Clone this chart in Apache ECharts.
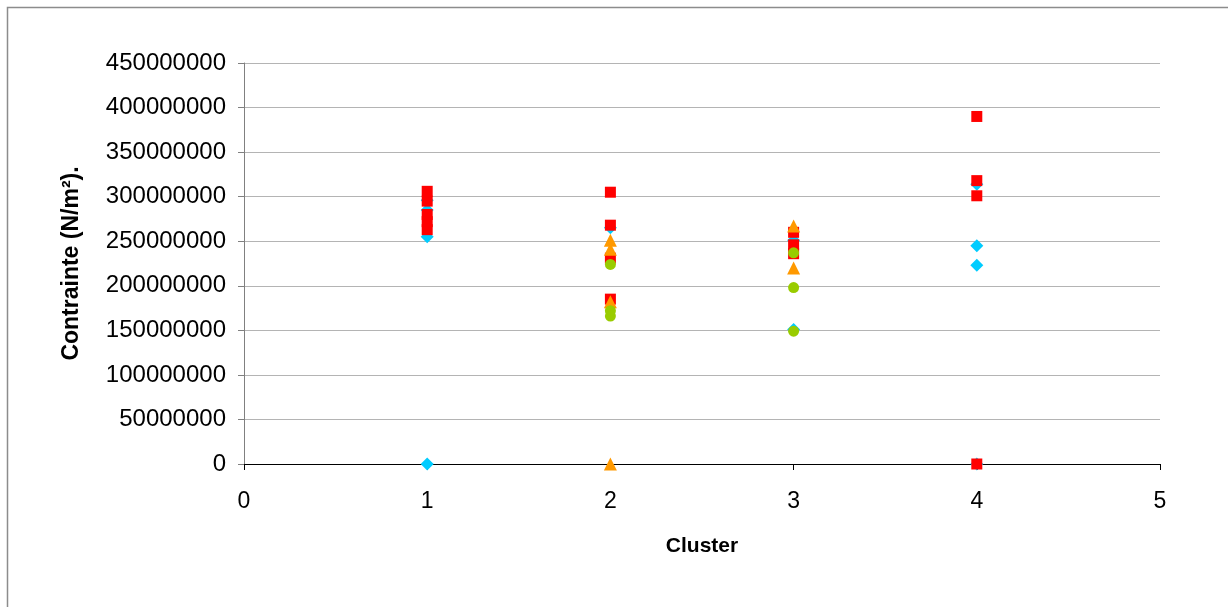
<!DOCTYPE html>
<html><head><meta charset="utf-8">
<script src="https://cdn.jsdelivr.net/npm/echarts@6/dist/echarts.min.js"></script>
<style>html,body{margin:0;padding:0;background:#fff}#c{width:1228px;height:607px}</style>
</head><body><div id="c"></div>
<script>
// x = cluster, y = contrainte (N/m²)
const blueX = [1, 1, 1, 1, 2, 3, 3, 4, 4, 4, 4];
const blueY = [0, 255e6, 285e6, 296e6, 265e6, 251e6, 151e6, 314e6, 245e6, 223e6, 0];
const redX = [1, 1, 1, 1, 1, 2, 2, 2, 2, 3, 3, 3, 4, 4, 4, 4];
const redY = [306e6, 295e6, 280e6, 272e6, 263e6, 305e6, 268e6, 231e6, 185e6, 260e6, 246e6, 236e6, 390e6, 318e6, 301e6, 0];
const orangeX = [2, 2, 2, 2, 3, 3];
const orangeY = [0, 251e6, 241e6, 182e6, 267e6, 220e6];
const greenX = [2, 2, 2, 3, 3, 3];
const greenY = [224e6, 172e6, 166e6, 237e6, 198e6, 149e6];
const xTicks = [0, 1, 2, 3, 4, 5];
const yTicks = [0, 50e6, 100e6, 150e6, 200e6, 250e6, 300e6, 350e6, 400e6, 450e6];

const pairs = (xs, ys) => xs.map((x, i) => [x, ys[i]]);
const chart = echarts.init(document.getElementById('c'), null, {renderer: 'canvas'});
const font = '"Liberation Sans", Arial, sans-serif';
chart.setOption({
  animation: false,
  graphic: [{type: 'rect', shape: {x: 7.5, y: 7.5, width: 1260, height: 640}, style: {fill: 'none', stroke: '#8c8c8c', lineWidth: 1.5}, z: -10}],
  grid: {left: 244, right: 68, top: 63, bottom: 143},
  xAxis: {
    type: 'value', min: xTicks[0], max: xTicks[xTicks.length - 1], interval: 1,
    name: 'Cluster', nameLocation: 'middle', nameGap: 72,
    nameTextStyle: {fontFamily: font, fontWeight: 'bold', fontSize: 21, color: '#000'},
    axisLine: {lineStyle: {color: '#000', width: 1}},
    axisTick: {show: true, length: 6, lineStyle: {color: '#000'}},
    axisLabel: {fontFamily: font, fontSize: 23, color: '#000', margin: 26},
    splitLine: {show: false}
  },
  yAxis: {
    type: 'value', min: yTicks[0], max: yTicks[yTicks.length - 1], interval: 50e6,
    name: 'Contrainte (N/m²).', nameLocation: 'middle', nameGap: 161, nameRotate: 90,
    nameTextStyle: {fontFamily: font, fontWeight: 'bold', fontSize: 23, color: '#000'},
    axisLine: {show: true, lineStyle: {color: '#808080', width: 1}},
    axisTick: {show: true, length: 6, lineStyle: {color: '#808080'}},
    axisLabel: {fontFamily: font, fontSize: 24, color: '#000', margin: 18, formatter: v => String(v)},
    splitLine: {show: true, lineStyle: {color: '#b4b4b4', width: 1}}
  },
  series: [
    {type: 'scatter', name: 'A', data: pairs(blueX, blueY), symbol: 'diamond', symbolSize: [13, 13], itemStyle: {color: '#00CCFF', opacity: 1}},
    {type: 'scatter', name: 'B', data: pairs(redX, redY), symbol: 'rect', symbolSize: 11, itemStyle: {color: '#FF0000', opacity: 1}},
    {type: 'scatter', name: 'C', data: pairs(orangeX, orangeY), symbol: 'triangle', symbolSize: 13, itemStyle: {color: '#FF9900', opacity: 1}},
    {type: 'scatter', name: 'D', data: pairs(greenX, greenY), symbol: 'circle', symbolSize: 11, itemStyle: {color: '#99CC00', opacity: 1}}
  ]
});
</script></body></html>
